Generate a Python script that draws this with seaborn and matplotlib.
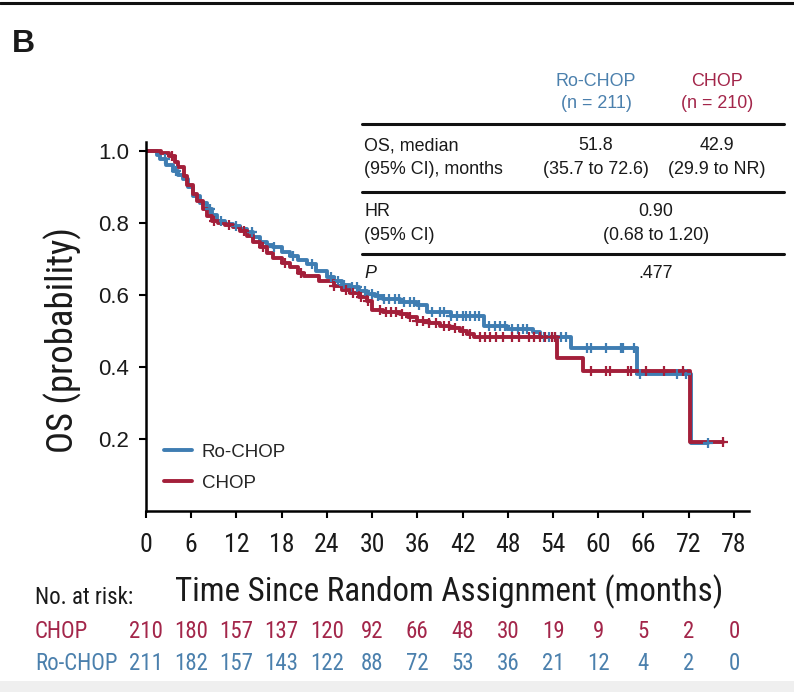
import numpy as np
import pandas as pd
import matplotlib
matplotlib.use("Agg")
import matplotlib.pyplot as plt
import seaborn as sns
from matplotlib.lines import Line2D
from matplotlib.patches import Rectangle
from matplotlib import font_manager as fm
import matplotlib.transforms as mtransforms

# ---------------- data ----------------
chop_time = [0, 2.0, 3.0, 3.8, 4.3, 5.0, 5.5, 6.2, 6.8, 7.5, 8.1, 8.8, 9.6, 10.5, 11.6,
             12.5, 13.4, 14.2, 15.1, 16.0, 16.9, 18.0, 19.1, 20.2, 21.0, 23.0, 24.9,
             26.0, 27.1, 28.2, 29.3, 30.0, 31.5, 33.7, 34.8, 35.9, 37.5, 39.0, 40.3,
             41.7, 42.6, 43.5, 54.5, 58.0, 72.2, 76.6]
chop_surv = [1.0, 0.995, 0.986, 0.97, 0.955, 0.93, 0.905, 0.88, 0.86, 0.84, 0.82, 0.805,
             0.80, 0.795, 0.788, 0.778, 0.764, 0.748, 0.732, 0.718, 0.704, 0.69, 0.677,
             0.662, 0.652, 0.64, 0.626, 0.615, 0.605, 0.595, 0.584, 0.557, 0.553, 0.548,
             0.538, 0.529, 0.522, 0.515, 0.508, 0.501, 0.492, 0.483, 0.425, 0.388, 0.192,
             0.192]
chop_censor = [3.5, 9.0, 11.0, 13.0, 15.5, 18.5, 20.5, 25.0, 26.5, 27.5, 28.5, 29.5, 31.0,
               31.8, 32.5, 33.2, 34.0, 35.0, 36.0, 36.7, 37.5, 38.5, 39.5, 40.2, 41.0,
               42.0, 43.0, 44.3, 45.0, 45.7, 46.5, 47.3, 48.5, 49.5, 50.8, 51.5, 52.3,
               53.0, 53.8, 54.2, 59.0, 61.0, 61.5, 64.0, 64.3, 66.3, 68.7, 71.2, 76.6]

rochop_time = [0, 1.5, 1.8, 2.7, 3.6, 4.3, 4.9, 5.6, 6.3, 7.2, 8.1, 8.8, 9.4, 10.5, 11.6,
               12.5, 13.4, 14.2, 15.1, 16.0, 16.9, 18.0, 19.1, 20.2, 21.3, 22.6, 24.0,
               24.9, 26.0, 27.1, 28.2, 29.3, 30.4, 31.5, 33.7, 35.9, 37.3, 40.4, 44.8,
               47.9, 51.4, 52.3, 56.4, 65.1, 72.3, 74.5]
rochop_surv = [1.0, 0.99, 0.978, 0.96, 0.945, 0.933, 0.922, 0.90, 0.875, 0.855, 0.839,
               0.822, 0.806, 0.798, 0.792, 0.784, 0.774, 0.76, 0.746, 0.74, 0.732, 0.72,
               0.709, 0.697, 0.685, 0.667, 0.649, 0.638, 0.628, 0.621, 0.612, 0.603, 0.596,
               0.589, 0.58, 0.571, 0.552, 0.543, 0.515, 0.506, 0.497, 0.483, 0.452, 0.38,
               0.188, 0.188]
rochop_censor = [2.5, 4.0, 8.5, 10.0, 12.0, 14.0, 17.0, 19.5, 22.0, 24.5, 25.5, 26.3, 27.3,
                 28.0, 29.0, 30.0, 30.8, 31.6, 32.3, 33.0, 33.5, 34.2, 35.0, 35.5, 36.2,
                 38.0, 39.0, 39.6, 40.5, 41.2, 42.0, 42.5, 43.0, 43.7, 44.2, 45.5, 46.3,
                 47.0, 47.6, 48.5, 49.3, 50.0, 50.6, 52.8, 53.5, 54.3, 55.0, 55.7, 58.5,
                 59.1, 61.0, 63.0, 63.3, 64.7, 65.6, 70.5, 71.7, 74.5]

risk_times = [0, 6, 12, 18, 24, 30, 36, 42, 48, 54, 60, 66, 72, 78]
risk_chop = [210, 180, 157, 137, 120, 92, 66, 48, 30, 19, 9, 5, 2, 0]
risk_rochop = [211, 182, 157, 143, 122, 88, 72, 53, 36, 21, 12, 4, 2, 0]

x_ticks = [0, 6, 12, 18, 24, 30, 36, 42, 48, 54, 60, 66, 72, 78]
y_ticks = [0.2, 0.4, 0.6, 0.8, 1.0]
y_tick_labels = ["0.2", "0.4", "0.6", "0.8", "1.0"]

# ---------------- style ----------------
sns.set_style("ticks")
names = {f.name for f in fm.fontManager.ttflist}
REG = "Liberation Sans" if "Liberation Sans" in names else "DejaVu Sans"
NARROW = REG
for cand in ["Roboto Condensed", "Liberation Sans Narrow", "Arial Narrow",
             "PT Sans Narrow", "Archivo Narrow", "Open Sans Condensed",
             "Fira Sans Condensed", "IBM Plex Sans Condensed"]:
    if cand in names:
        NARROW = cand
        break
plt.rcParams["font.family"] = [REG, "DejaVu Sans"]

BLUE = "#3f7db2"
RED = "#a31f3a"
BLUE_T = "#4b80ad"
RED_T = "#a3264a"
INK = "#1a1a1a"

fig = plt.figure(figsize=(7.94, 6.92), dpi=100)
ax = fig.add_axes([0.1839, 0.2616, 0.7594, 0.5332])

def km_df(t, s):
    return pd.DataFrame({"time": t, "surv": s})

def step_at(t, s, c):
    idx = np.searchsorted(np.asarray(t), np.asarray(c), side="right") - 1
    return np.asarray(s)[idx]

# Ro-CHOP first, CHOP on top
sns.lineplot(data=km_df(rochop_time, rochop_surv), x="time", y="surv", ax=ax,
             color=BLUE, linewidth=2.8, drawstyle="steps-post", estimator=None,
             sort=False)
sns.scatterplot(x=rochop_censor, y=step_at(rochop_time, rochop_surv, rochop_censor),
                ax=ax, marker="+", s=45, color=BLUE, linewidth=1.6, zorder=3)
sns.lineplot(data=km_df(chop_time, chop_surv), x="time", y="surv", ax=ax,
             color=RED, linewidth=2.8, drawstyle="steps-post", estimator=None,
             sort=False)
sns.scatterplot(x=chop_censor, y=step_at(chop_time, chop_surv, chop_censor),
                ax=ax, marker="+", s=45, color=RED, linewidth=1.6, zorder=4)

ax.set_xlim(0, 80)
ax.set_ylim(0, 1.025)
ax.set_xticks(x_ticks)
ax.set_xticklabels([str(v) for v in x_ticks], fontfamily=NARROW, fontsize=18.5)
ax.set_yticks(y_ticks)
ax.set_yticklabels(y_tick_labels, fontsize=16)
ax.tick_params(axis="both", direction="out", length=5, width=1.5, color="black",
               labelcolor=INK)
ax.tick_params(axis="x", pad=11)
ax.tick_params(axis="y", pad=7)
for side in ["left", "bottom"]:
    ax.spines[side].set_linewidth(1.8)
    ax.spines[side].set_color("black")
sns.despine(ax=ax)

ax.set_xlabel("Time Since Random Assignment (months)", fontfamily=NARROW,
              fontsize=23.8, color=INK)
ax.xaxis.set_label_coords(0.5035, -0.2195)
ax.xaxis.label.set_verticalalignment("center")
ax.set_ylabel("OS (probability)", fontfamily=NARROW, fontsize=26.5, color=INK)
ax.yaxis.set_label_coords(-0.1376, 0.463)
ax.yaxis.label.set_verticalalignment("center")

handles = [Line2D([0], [0], color=BLUE, lw=2.8), Line2D([0], [0], color=RED, lw=2.8)]
ax.legend(handles, ["Ro-CHOP", "CHOP"], loc="lower left", bbox_to_anchor=(0.03, 0.052),
          frameon=False, fontsize=13.5, handlelength=1.5, handletextpad=0.5,
          labelspacing=0.75, borderpad=0, borderaxespad=0)

# ---------------- panel letter & frame ----------------
fig.text(12 / 794, 1 - 52 / 692, "B", fontsize=23, fontweight="bold", ha="left",
         va="baseline", color=INK)
fig.add_artist(Line2D([0, 1], [1 - 3 / 692, 1 - 3 / 692], color="#111111", lw=2.2,
                      transform=fig.transFigure))
fig.add_artist(Rectangle((0, 0), 1, 11 / 692, facecolor="#efefef", edgecolor="none",
                         transform=fig.transFigure))

# ---------------- summary table ----------------
def fx(px):
    return px / 794

def fy(py):
    return 1 - py / 692

TFS = 12.9
c1, c2, c3, cm = fx(364), fx(596), fx(717), fx(656)
fig.text(c2, fy(82), "Ro-CHOP", color=BLUE_T, fontsize=TFS, ha="center", va="center")
fig.text(c2, fy(103), "(n = 211)", color=BLUE_T, fontsize=TFS, ha="center", va="center")
fig.text(c3, fy(82), "CHOP", color=RED_T, fontsize=TFS, ha="center", va="center")
fig.text(c3, fy(103), "(n = 210)", color=RED_T, fontsize=TFS, ha="center", va="center")
for py in [124, 192, 254]:
    fig.add_artist(Line2D([fx(362), fx(784)], [fy(py), fy(py)], color="#111111", lw=2.2,
                          transform=fig.transFigure))
rows = [
    (146, "OS, median", "51.8", "42.9"),
    (170, "(95% CI), months", "(35.7 to 72.6)", "(29.9 to NR)"),
]
for py, lab, a, b in rows:
    fig.text(c1, fy(py), lab, fontsize=TFS, ha="left", va="center", color=INK)
    fig.text(c2, fy(py), a, fontsize=TFS, ha="center", va="center", color=INK)
    fig.text(c3, fy(py), b, fontsize=TFS, ha="center", va="center", color=INK)
fig.text(c1, fy(212), "HR", fontsize=TFS, ha="left", va="center", color=INK)
fig.text(c1, fy(236), "(95% CI)", fontsize=TFS, ha="left", va="center", color=INK)
fig.text(cm, fy(212), "0.90", fontsize=TFS, ha="center", va="center", color=INK)
fig.text(cm, fy(236), "(0.68 to 1.20)", fontsize=TFS, ha="center", va="center", color=INK)
fig.text(c1, fy(273), "P", fontsize=TFS, ha="left", va="center", style="italic", color=INK)
fig.text(cm, fy(273), ".477", fontsize=TFS, ha="center", va="center", color=INK)

# ---------------- number at risk ----------------
blend = mtransforms.blended_transform_factory(ax.transData, fig.transFigure)
RFS = 16.5
fig.text(fx(35), fy(597), "No. at risk:", fontfamily=NARROW, fontsize=16.5, ha="left",
         va="center", color=INK)
fig.text(fx(35), fy(631), "CHOP", fontfamily=NARROW, fontsize=RFS, ha="left",
         va="center", color=RED_T)
fig.text(fx(35), fy(663), "Ro-CHOP", fontfamily=NARROW, fontsize=RFS, ha="left",
         va="center", color=BLUE_T)
for t, a, b in zip(risk_times, risk_chop, risk_rochop):
    ax.text(t, fy(631), str(a), transform=blend, fontfamily=NARROW, fontsize=RFS,
            ha="center", va="center", color=RED_T, clip_on=False)
    ax.text(t, fy(663), str(b), transform=blend, fontfamily=NARROW, fontsize=RFS,
            ha="center", va="center", color=BLUE_T, clip_on=False)

fig.savefig("out.png", dpi=100)
